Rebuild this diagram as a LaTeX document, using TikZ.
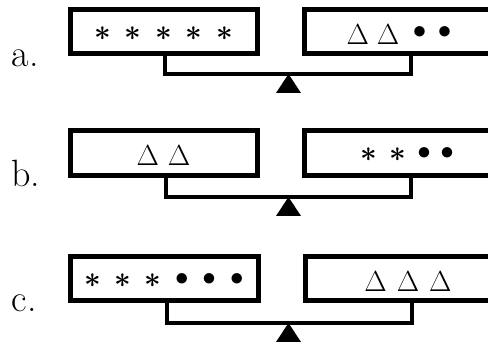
\RequirePackage{fix-cm}
\documentclass[tikz,border=0pt]{standalone}
\usepackage{amssymb}
\usepackage{tikz}
\tikzset{
    pan/.style={draw, line width=5pt, inner sep=0pt, outer sep=0pt,
    	minimum height=44.5pt, text height=26pt, text depth=0pt,
    	font=\fontsize{29}{30}\selectfont}
}
\tikzset{
    beam/.style={line width=4pt}
}
\tikzset{
    lbl/.style={anchor=base west, inner sep=0pt, outer sep=0pt,
    	font=\fontsize{38}{40}\selectfont}
}
\newcommand{\sAst}{\raisebox{4pt}{\boldmath$\ast$}}
\newcommand{\sTri}{$\Delta$}
\newcommand{\sBul}{\raisebox{6pt}{\fontsize{27}{27}\selectfont$\bullet$}}

\begin{document}
\begin{tikzpicture}[x=1pt, y=-1pt]
  \clip (0,0) rectangle (488,344);

  % a.
  \node (la) [pan, minimum width=187pt] at (163.5,31.5)
  	{\sAst\hspace{13.8pt}\sAst\hspace{13.8pt}\sAst\hspace{13.8pt}\sAst\hspace{13.8pt}\sAst};
  \node (ra) [pan, anchor=west, minimum width=190pt] at (304,31.5)
  	{\sTri\hspace{8pt}\sTri\hspace{13.5pt}\sBul\hspace{11.5pt}\sBul};
  \coordinate (pa) at (288.5,74);
  \node (a) [lbl] at (12,67) {a.};
  \draw[beam] ([xshift=95pt]la.south west) |- (pa) -| ([xshift=106.5pt]ra.south west);
  \fill (pa) -- ++(-12.5,19) -- ++(25,0) -- cycle;

  % b.
  \node (lb) [pan, minimum width=187pt] at (163.5,152.8)
  	{\sTri\hspace{9pt}\sTri};
  \node (rb) [pan, anchor=west, minimum width=206pt] at (304,152.8)
  	{\sAst\hspace{12.5pt}\sAst\hspace{11.5pt}\sBul\hspace{9.5pt}\sBul};
  \coordinate (pb) at (288.5,197);
  \node (b) [lbl] at (11,187) {b.};
  \draw[beam] ([xshift=95.5pt]lb.south west) |- (pb) -| ([xshift=107pt]rb.south west);
  \fill (pb) -- ++(-12.5,19) -- ++(25,0) -- cycle;

  % c.
  \node (lc) [pan, minimum width=188pt] at (164,278.5)
  	{\sAst\hspace{13.5pt}\sAst\hspace{13.5pt}\sAst\hspace{13.5pt}\sBul\hspace{14pt}\sBul\hspace{14pt}\sBul};
  \node (rc) [pan, anchor=west, minimum width=206pt] at (305,278.5)
  	{\sTri\hspace{10pt}\sTri\hspace{10pt}\sTri};
  \coordinate (pc) at (288.5,323);
  \node (c) [lbl] at (12,312) {c.};
  \draw[beam] ([xshift=97pt]lc.south west) |- (pc) -| ([xshift=107pt]rc.south west);
  \fill (pc) -- ++(-12.5,19) -- ++(25,0) -- cycle;
\end{tikzpicture}
\end{document}
